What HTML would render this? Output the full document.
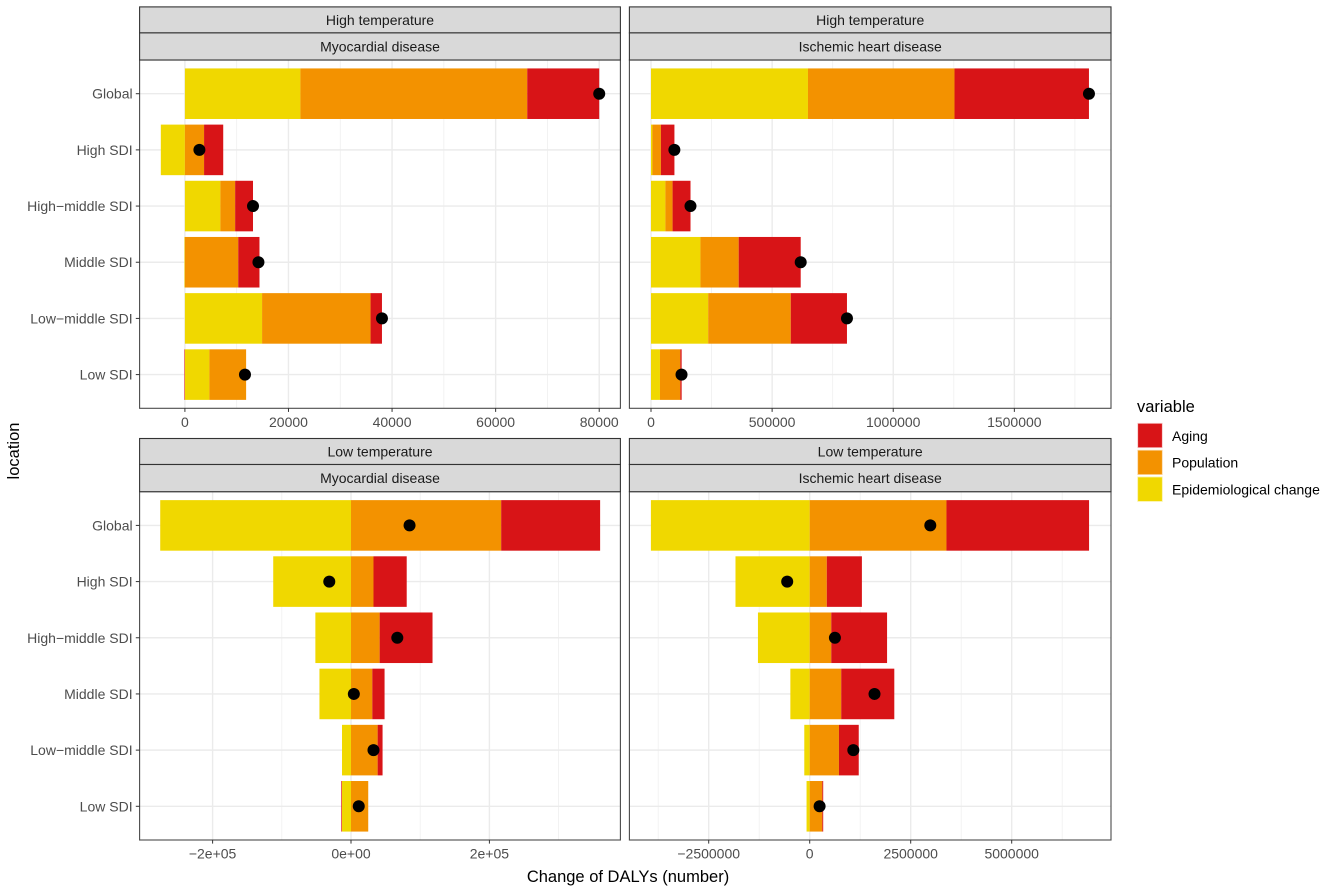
<!DOCTYPE html>
<html lang="en">
<head>
<meta charset="utf-8">
<title>Change of DALYs decomposition</title>
<style>
html,body{margin:0;padding:0;background:#fff;width:1325px;height:891px;overflow:hidden}
svg{display:block;font-family:"Liberation Sans",Arial,sans-serif}
</style>
</head>
<body>
<svg id="chart" xmlns="http://www.w3.org/2000/svg" width="1325" height="891" viewBox="0 0 1325 891">
  <rect x="0" y="0" width="1325" height="891" fill="#fff"/>
  <text transform="translate(19,451) rotate(-90)" text-anchor="middle" font-size="16.5" fill="#000">location</text>
  <text x="628" y="881.8" text-anchor="middle" font-size="16.5" fill="#000">Change of DALYs (number)</text>
  <g>
    <text x="1137" y="411.8" font-size="16.5" fill="#000">variable</text>
    <rect x="1137.7" y="423.3" width="24.6" height="24.4" fill="#D81417" stroke="#f7c8c8" stroke-width="0.8"/>
    <rect x="1137.7" y="450.2" width="24.6" height="24.4" fill="#F39200" stroke="#fbd9a8" stroke-width="0.8"/>
    <rect x="1137.7" y="477" width="24.6" height="24.4" fill="#F0D800" stroke="#faf1a0" stroke-width="0.8"/>
    <text x="1172" y="440.8" font-size="14" fill="#000">Aging</text>
    <text x="1172" y="467.5" font-size="14" fill="#000">Population</text>
    <text x="1172" y="494.3" font-size="14" fill="#000">Epidemiological change</text>
  </g>
</svg>
<script>
const categories = ["Global", "High SDI", "High\u2212middle SDI", "Middle SDI", "Low\u2212middle SDI", "Low SDI"];

const highMyoEpi = [22300, -4650, 6850, -100, 14900, 4730];
const highMyoPop = [43800, 3700, 2850, 10300, 20950, 7090];
const highMyoAging = [13900, 3700, 3450, 4100, 2200, -100];
const highMyoNet = [80000, 2800, 13150, 14200, 38050, 11600];
const highMyoTicks = [0, 20000, 40000, 60000, 80000];
const highMyoTickLabels = ["0", "20000", "40000", "60000", "80000"];
const highMyoMinor = [10000, 30000, 50000, 70000];
const highMyoDomain = [-8747, 84090];

const highIhdEpi = [648000, 6000, 59400, 204000, 236000, 37000];
const highIhdPop = [605000, 35000, 29700, 158000, 341000, 84000];
const highIhdAging = [555000, 55700, 74000, 256000, 232000, 5500];
const highIhdNet = [1808000, 96500, 163000, 618000, 809000, 126000];
const highIhdTicks = [0, 500000, 1000000, 1500000];
const highIhdTickLabels = ["0", "500000", "1000000", "1500000"];
const highIhdMinor = [250000, 750000, 1250000, 1750000];
const highIhdDomain = [-89180, 1899000];

const lowMyoEpi = [-275700, -112400, -51500, -45600, -13000, -13000];
const lowMyoPop = [217000, 32500, 41400, 30800, 38500, 24900];
const lowMyoAging = [143000, 48000, 76400, 17700, 7100, -1000];
const lowMyoNet = [84600, -31400, 66900, 4100, 32500, 11200];
const lowMyoTicks = [-200000, 0, 200000];
const lowMyoTickLabels = ["\u22122e+05", "0e+00", "2e+05"];
const lowMyoMinor = [-100000, 100000, 300000];
const lowMyoDomain = [-305500, 389300];

const lowIhdEpi = [-3931000, -1837000, -1281000, -479000, -134000, -78000];
const lowIhdPop = [3385000, 423000, 534000, 780000, 724000, 312000];
const lowIhdAging = [3530000, 869000, 1381000, 1314000, 490000, 22000];
const lowIhdNet = [2985000, -557000, 624000, 1604000, 1080000, 245000];
const lowIhdTicks = [-2500000, 0, 2500000, 5000000];
const lowIhdTickLabels = ["\u22122500000", "0", "2500000", "5000000"];
const lowIhdMinor = [-3750000, -1250000, 1250000, 3750000, 6250000];
const lowIhdDomain = [-4463000, 7458000];

const seriesNames = ["epi", "population", "aging"];
const seriesColors = ["#F0D800", "#F39200", "#D81417"];

const NS = "http://www.w3.org/2000/svg";
const svg = document.getElementById("chart");

function make(tag, attrs, parent) {
  const el = document.createElementNS(NS, tag);
  for (const k in attrs) el.setAttribute(k, attrs[k]);
  parent.appendChild(el);
  return el;
}

function drawPanel(p) {
  const g = make("g", {}, svg);
  
  

  const x = v => p.left + (v - p.domain[0]) / (p.domain[1] - p.domain[0]) * (p.right - p.left);
  const unit = (p.bottom - p.top) / (categories.length + 0.2);
  const y = i => p.top + (0.6 + i) * unit;
  const barH = 0.9 * unit;

  const bg = make("rect", {x: p.left, y: p.top, width: p.right - p.left, height: p.bottom - p.top, fill: "#fff"}, g);
  
  

  p.minor.forEach(v => {
    const l = make("line", {x1: x(v), x2: x(v), y1: p.top, y2: p.bottom, stroke: "#efefef", "stroke-width": 0.8}, g);
    
    
  });
  p.ticks.forEach(v => {
    const l = make("line", {x1: x(v), x2: x(v), y1: p.top, y2: p.bottom, stroke: "#ebebeb", "stroke-width": 1.4}, g);
    
    
  });
  categories.forEach((c, i) => {
    const l = make("line", {x1: p.left, x2: p.right, y1: y(i), y2: y(i), stroke: "#ebebeb", "stroke-width": 1.4}, g);
    
    
  });

  categories.forEach((c, i) => {
    let pos = 0, neg = 0;
    p.series.forEach((vals, s) => {
      const v = vals[i];
      let a, b;
      if (v >= 0) { a = pos; b = pos + v; pos = b; }
      else { a = neg + v; b = neg; neg = a; }
      const r = make("rect", {x: x(a), y: y(i) - barH / 2, width: Math.max(x(b) - x(a), 0), height: barH, fill: seriesColors[s]}, g);
      
      
    });
  });

  p.net.forEach((v, i) => {
    const d = make("circle", {cx: x(v), cy: y(i), r: 6, fill: "#000"}, g);
    
    
  });

  const border = make("rect", {x: p.left, y: p.top, width: p.right - p.left, height: p.bottom - p.top, fill: "none", stroke: "#4a4a4a", "stroke-width": 1.1}, g);
  
  

  p.strips.forEach((label, s) => {
    const sy = p.stripTops[s];
    const sh = p.stripTops[s + 1] - sy;
    const r = make("rect", {x: p.left, y: sy, width: p.right - p.left, height: sh, fill: "#d9d9d9", stroke: "#333", "stroke-width": 1.1}, g);
    
    
    const t = make("text", {x: (p.left + p.right) / 2, y: sy + sh / 2 + 5, "text-anchor": "middle", "font-size": 14, fill: "#1a1a1a"}, g);
    
    
    t.textContent = label;
  });

  p.ticks.forEach((v, i) => {
    const l = make("line", {x1: x(v), x2: x(v), y1: p.bottom, y2: p.bottom + 3.6, stroke: "#333", "stroke-width": 1}, g);
    
    
    const t = make("text", {x: x(v), y: p.bottom + 18.5, "text-anchor": "middle", "font-size": 14, fill: "#4d4d4d"}, g);
    
    
    t.textContent = p.tickLabels[i];
  });

  if (p.showY) {
    categories.forEach((c, i) => {
      const l = make("line", {x1: p.left - 3.8, x2: p.left, y1: y(i), y2: y(i), stroke: "#333", "stroke-width": 1}, g);
      
      
      const t = make("text", {x: p.left - 7, y: y(i) + 5, "text-anchor": "end", "font-size": 14, fill: "#4d4d4d"}, g);
      
      
      t.textContent = c;
    });
  }
}

drawPanel({id: "high-temperature-myocardial", left: 139.6, right: 620.4, top: 60, bottom: 408.3, stripTops: [6.9, 32.9, 60],
  strips: ["High temperature", "Myocardial disease"], domain: highMyoDomain, ticks: highMyoTicks, tickLabels: highMyoTickLabels, minor: highMyoMinor,
  series: [highMyoEpi, highMyoPop, highMyoAging], net: highMyoNet, showY: true});
drawPanel({id: "high-temperature-ischemic", left: 629.4, right: 1111, top: 60, bottom: 408.3, stripTops: [6.9, 32.9, 60],
  strips: ["High temperature", "Ischemic heart disease"], domain: highIhdDomain, ticks: highIhdTicks, tickLabels: highIhdTickLabels, minor: highIhdMinor,
  series: [highIhdEpi, highIhdPop, highIhdAging], net: highIhdNet, showY: false});
drawPanel({id: "low-temperature-myocardial", left: 139.6, right: 620.4, top: 491.7, bottom: 840, stripTops: [438.5, 464.5, 491.7],
  strips: ["Low temperature", "Myocardial disease"], domain: lowMyoDomain, ticks: lowMyoTicks, tickLabels: lowMyoTickLabels, minor: lowMyoMinor,
  series: [lowMyoEpi, lowMyoPop, lowMyoAging], net: lowMyoNet, showY: true});
drawPanel({id: "low-temperature-ischemic", left: 629.4, right: 1111, top: 491.7, bottom: 840, stripTops: [438.5, 464.5, 491.7],
  strips: ["Low temperature", "Ischemic heart disease"], domain: lowIhdDomain, ticks: lowIhdTicks, tickLabels: lowIhdTickLabels, minor: lowIhdMinor,
  series: [lowIhdEpi, lowIhdPop, lowIhdAging], net: lowIhdNet, showY: false});
</script>
</body>
</html>
